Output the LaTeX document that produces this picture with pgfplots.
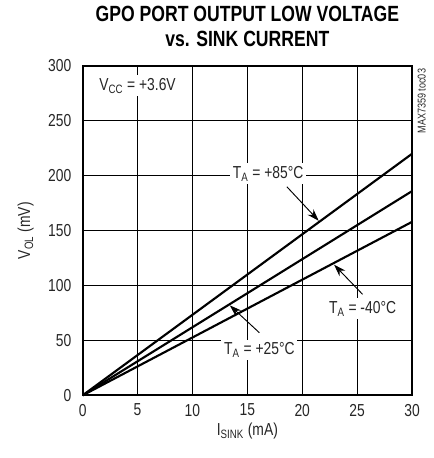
\documentclass[border=0pt]{standalone}
\usepackage{pgfplots}
\pgfplotsset{compat=1.18}
\usepackage{fontspec}
\setmainfont{Liberation Sans}[FakeStretch=0.8]
\usetikzlibrary{arrows.meta}
\begin{document}
\begin{tikzpicture}
\begin{axis}[
    name=ax,
    clip=false,
    scale only axis,
    width=247pt, height=247pt,
    xmin=0, xmax=30, ymin=0, ymax=300,
    xtick={0,5,...,30}, ytick={0,50,...,300},
    grid=major,
    major grid style={black, line width=0.8pt},
    axis line style={line width=1.6pt},
    tick style={draw=none},
    /pgf/number format/assume math mode=true,
    ticklabel style={font=\fontsize{13}{15}\selectfont, text=black!85},
    xticklabel style={yshift=-3pt},
    yticklabel style={xshift=-5pt},
    xlabel={I\textsubscript{SINK} (mA)},
    ylabel={V\textsubscript{OL} (mV)},
    label style={font=\fontsize{13}{15}\selectfont, text=black!85},
    xlabel style={yshift=2pt},
    ylabel style={yshift=4pt},
    title={GPO PORT OUTPUT LOW VOLTAGE\\vs. SINK CURRENT},
    title style={align=center, font=\fontsize{16.5}{18.5}\selectfont\bfseries, yshift=5pt},
]
\addplot[black, line width=1.6pt] coordinates {(0,0) (30,220)};
\addplot[black, line width=1.6pt] coordinates {(0,0) (30,186)};
\addplot[black, line width=1.6pt] coordinates {(0,0) (30,158)};

\node[fill=white, inner sep=2pt, font=\fontsize{13}{15}\selectfont, text=black!85] at (axis cs:5,282) {V\textsubscript{CC} = +3.6V};
\node[fill=white, inner sep=2pt, font=\fontsize{13}{15}\selectfont, text=black!85] at (axis cs:16.9,202) {T\textsubscript{A} = +85°C};
\node[fill=white, inner sep=2pt, font=\fontsize{13}{15}\selectfont, text=black!85] at (axis cs:25.5,79) {T\textsubscript{A} = -40°C};
\node[fill=white, inner sep=2pt, font=\fontsize{13}{15}\selectfont, text=black!85] at (axis cs:16.1,41) {T\textsubscript{A} = +25°C};

\draw[-{Stealth[length=9pt,width=6pt]}, line width=0.7pt] (axis cs:18.6,190) -- (axis cs:21.5,159);
\draw[-{Stealth[length=9pt,width=6pt]}, line width=0.7pt] (axis cs:25.5,92) -- (axis cs:22.9,119);
\draw[-{Stealth[length=9pt,width=6pt]}, line width=0.7pt] (axis cs:16.1,57) -- (axis cs:13.4,82);

\node[rotate=90, anchor=north east, font=\fontsize{8.5}{10}\selectfont, text=black!85, inner sep=0pt] at ([xshift=4pt,yshift=-2pt]rel axis cs:1,1) {MAX7359 toc03};
\end{axis}
\pgfresetboundingbox
\path ([shift={(-62pt,-47pt)}]ax.south west) rectangle ([shift={(16pt,49.5pt)}]ax.north east);
\end{tikzpicture}
\end{document}
